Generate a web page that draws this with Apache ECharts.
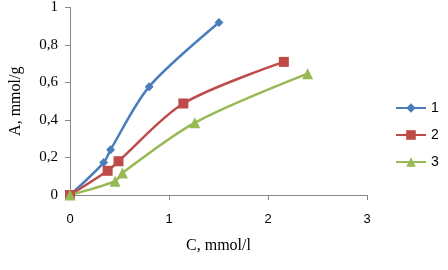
<!DOCTYPE html>
<html>
<head>
<meta charset="utf-8">
<script src="https://cdn.jsdelivr.net/npm/echarts@6/dist/echarts.min.js"></script>
<style>
  html, body { margin: 0; padding: 0; background: #fff; }
  #chart { width: 448px; height: 270px; }
</style>
</head>
<body>
<div id="chart"></div>
<script>
// values: [C, A]
var series1 = [[0, 0], [0.34, 0.173], [0.41, 0.242], [0.80, 0.578], [1.505, 0.92]]
var series2 = [[0, 0], [0.38, 0.129], [0.49, 0.18], [1.145, 0.488], [2.16, 0.71]]
var series3 = [[0, 0], [0.455, 0.074], [0.53, 0.118], [1.26, 0.385], [2.40, 0.647]]
var names = ['1', '2', '3']

var chart = echarts.init(document.getElementById('chart'))
var axisGray = '#868686'

function line (name, data, color, symbol, size) {
  return {
    name: name,
    type: 'line',
    data: data,
    smooth: 0.3,
    symbol: symbol,
    symbolSize: size,
    showSymbol: true,
    lineStyle: { color: color, width: 2.5 },
    itemStyle: { color: color },
    emphasis: { disabled: true }
  }
}

var option = {
  animation: false,
  grid: { left: 70, top: 6, right: 81, bottom: 75 },
  legend: {
    orient: 'vertical',
    left: 390,
    top: 96,
    itemWidth: 30,
    itemHeight: 12,
    itemGap: 13,
    textStyle: { fontFamily: 'Liberation Sans', fontSize: 14, color: '#000' },
    data: names
  },
  xAxis: {
    type: 'value',
    min: 0,
    max: 3,
    interval: 1,
    name: 'C, mmol/l',
    nameLocation: 'middle',
    nameGap: 43,
    nameTextStyle: { fontFamily: 'Liberation Serif', fontSize: 16, color: '#000' },
    axisLine: { lineStyle: { color: axisGray } },
    axisTick: { show: true, length: 5, lineStyle: { color: axisGray } },
    axisLabel: { margin: 18, fontFamily: 'Liberation Sans', fontSize: 13, color: '#000' },
    splitLine: { show: false }
  },
  yAxis: {
    type: 'value',
    min: 0,
    max: 1,
    interval: 0.2,
    name: 'A, mmol/g',
    nameLocation: 'middle',
    nameGap: 46,
    nameTextStyle: { fontFamily: 'Liberation Serif', fontSize: 16, color: '#000' },
    axisLine: { show: true, lineStyle: { color: axisGray } },
    axisTick: { show: true, length: 5, lineStyle: { color: axisGray } },
    axisLabel: {
      margin: 12,
      fontFamily: 'Liberation Serif',
      fontSize: 15,
      color: '#000',
      formatter: function (v) { return String(Math.round(v * 10) / 10).replace('.', ',') }
    },
    splitLine: { show: false }
  },
  series: [
    line(names[0], series1, '#4a7ebb', 'diamond', 9),
    line(names[1], series2, '#be4b48', 'rect', 10),
    line(names[2], series3, '#98b954', 'triangle', 11)
  ]
}
chart.setOption(option)
</script>
</body>
</html>
